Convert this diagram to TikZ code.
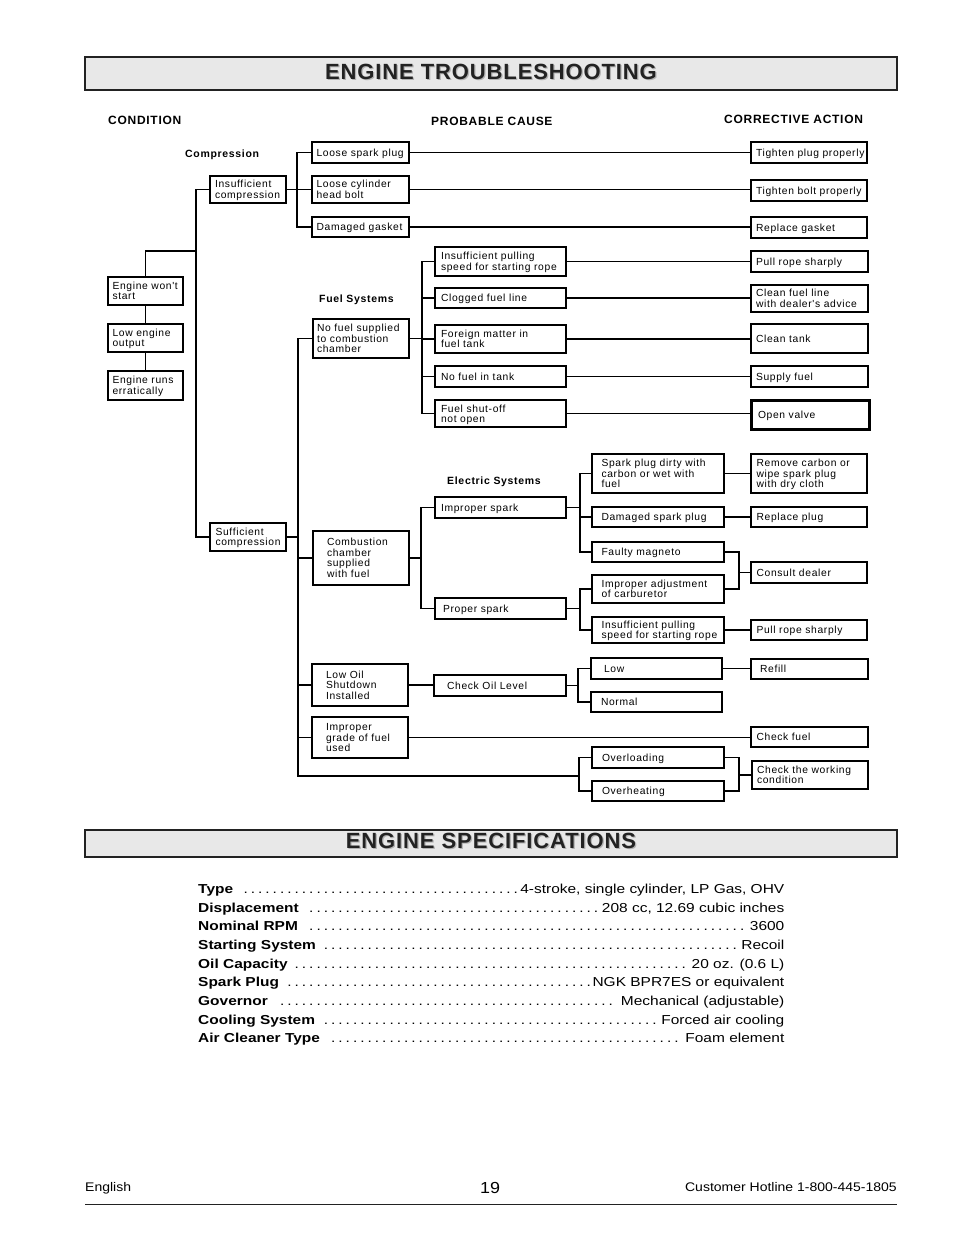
\documentclass[tikz,border=0pt]{standalone}
\usepackage{fontspec}
\setmainfont{Liberation Sans}
\newfontfamily\bxfont[LetterSpace=6.5]{Liberation Sans}
\newfontfamily\hdfont[LetterSpace=6]{Liberation Sans}
\newfontfamily\ttlfont[LetterSpace=4]{Liberation Sans}
\newfontfamily\spfont[FakeStretch=1.19]{Liberation Sans}
\newfontfamily\ftfont[FakeStretch=1.12]{Liberation Sans}
\definecolor{hdrfill}{HTML}{E8E8E8}
\definecolor{ink}{HTML}{222222}
\tikzset{
 cbox/.style={draw=black, line width=1.3pt, inner sep=0pt, font=\bxfont\fontsize{10.3}{10.3}\selectfont},
 conn/.style={line width=1.3pt, line join=miter},
 hdr/.style={anchor=base west, inner sep=0pt, font=\hdfont\bfseries\fontsize{12}{14}\selectfont},
 grp/.style={anchor=base west, inner sep=0pt, font=\bxfont\bfseries\fontsize{10.5}{12}\selectfont},
 banner/.style={draw=ink, line width=1.6pt, fill=hdrfill, minimum width=812pt, inner sep=0pt},
 ttl/.style={font=\ttlfont\bfseries\fontsize{22}{24}\selectfont, inner sep=0pt},
 spec/.style={anchor=base west, inner sep=0pt, font=\spfont\fontsize{13}{15}\selectfont},
 foot/.style={inner sep=0pt, font=\ftfont\fontsize{12.5}{14}\selectfont},
}
\newcommand\TBx[7][5]{%
 \pgfmathsetmacro\TBw{#5-#3}\pgfmathsetmacro\TBh{#6-#4}%
 \pgfmathsetmacro\TBcx{(#3+#5)/2}\pgfmathsetmacro\TBcy{(#4+#6)/2}%
 \node[cbox, minimum width=\TBw pt, minimum height=\TBh pt] (#2) at (\TBcx,\TBcy)
   {\makebox[\TBw pt][l]{\hspace*{#1pt}\raisebox{-4pt}[0pt][0pt]{\begin{tabular}{@{}l@{}}#7\end{tabular}}}};}
\newcommand\SpecLine[4]{\node[spec] (#1) at (198,#2) {\hbox to 586pt{{\bfseries #3}\ \leaders\hbox to 7.3pt{\hss.\hss}\hfill#4}};}
\begin{document}
\begin{tikzpicture}[x=1pt,y=-1pt]
\fill[white] (0,0) rectangle (954,1235);
\useasboundingbox (0,0) rectangle (954,1235);

% ---------- banner 1
\node[banner, minimum height=33pt] (tbar) at (491,73.5) {};
\node[ttl, text=gray!60] (tsh) at (492.2,72.7) {ENGINE TROUBLESHOOTING};
\node[ttl, text=ink] (ttxt) at (491,71.5) {ENGINE TROUBLESHOOTING};

% ---------- column headers
\node[hdr] (hcond) at (108,124.5) {CONDITION};
\node[hdr] (hcause) at (431,125.5) {PROBABLE CAUSE};
\node[hdr] (hact) at (724,123.5) {CORRECTIVE ACTION};
\node[grp] (gcomp) at (185,157) {Compression};
\node[grp] (gfuel) at (319,302) {Fuel Systems};
\node[grp] (gelec) at (447,484) {Electric Systems};

% ---------- boxes: compression
\TBx{ins}{210}{176}{286}{203}{Insufficient\\compression}
\TBx[4.5]{lsp}{312}{142}{409}{163}{Loose spark plug}
\TBx[4.5]{lch}{312}{176}{409}{203}{Loose cylinder\\head bolt}
\TBx[4.5]{dgk}{312}{217}{409}{237}{Damaged gasket}
\TBx{a1}{751}{142}{867}{163}{Tighten plug properly}
\TBx{a2}{751}{180}{867}{201}{Tighten bolt properly}
\TBx{a3}{751}{217}{867}{238}{Replace gasket}

% ---------- conditions
\TBx[4.5]{ews}{108}{277}{183}{305}{Engine won't\\start}
\TBx[4.5]{leo}{108}{324}{183}{352}{Low engine\\output}
\TBx[4.5]{ere}{108}{371}{183}{400}{Engine runs\\erratically}
\TBx[5.5]{suf}{210}{523}{286}{551}{Sufficient\\compression}

% ---------- fuel
\TBx[4]{nfs}{313}{319}{409}{358}{No fuel supplied\\to combustion\\chamber}
\TBx[6]{f1}{435}{247}{566}{276}{Insufficient pulling\\speed for starting rope}
\TBx[6]{f2}{435}{288}{566}{308}{Clogged fuel line}
\TBx[6]{f3}{435}{325}{566}{353}{Foreign matter in\\fuel tank}
\TBx[6]{f4}{435}{366}{566}{387}{No fuel in tank}
\TBx[6]{f5}{435}{400}{566}{427}{Fuel shut-off\\not open}
\TBx{fa1}{751}{251}{868}{272}{Pull rope sharply}
\TBx{fa2}{751}{285}{868}{312}{Clean fuel line\\with dealer's advice}
\TBx{fa3}{751}{324}{868}{353}{Clean tank}
\TBx{fa4}{751}{366}{868}{387}{Supply fuel}
\TBx[6]{fa5}{752}{401}{869}{429}{Open valve}
\draw[line width=1.9pt] (fa5.north west) rectangle (fa5.south east);

% ---------- electric
\TBx[14]{ccf}{313}{531}{409}{585}{Combustion\\chamber\\supplied\\with fuel}
\TBx[6]{isp}{435}{497}{566}{518}{Improper spark}
\TBx[8]{psp}{435}{598}{566}{619}{Proper spark}
\TBx[9.5]{e1}{592}{454}{724}{493}{Spark plug dirty with\\carbon or wet with\\fuel}
\TBx[9.5]{e2}{592}{507}{724}{527}{Damaged spark plug}
\TBx[9.5]{e3}{592}{542}{724}{562}{Faulty magneto}
\TBx[9.5]{e4}{592}{575}{724}{603}{Improper adjustment\\of carburetor}
\TBx[9.5]{e5}{592}{617}{724}{643}{Insufficient pulling\\speed for starting rope}
\TBx[5.5]{ea1}{751}{454}{867}{493}{Remove carbon or\\wipe spark plug\\with dry cloth}
\TBx[5.5]{ea2}{751}{507}{867}{527}{Replace plug}
\TBx[5.5]{ea3}{751}{562}{867}{583}{Consult dealer}
\TBx[5.5]{ea4}{751}{620}{867}{640}{Pull rope sharply}

% ---------- oil / fuel grade / load
\TBx[14]{low}{312}{664}{408}{706}{Low Oil\\Shutdown\\Installed}
\TBx[13]{col}{434}{675}{566}{696}{Check Oil Level}
\TBx[13]{o1}{591}{658}{722}{679}{Low}
\TBx[10]{o2}{591}{692}{722}{712}{Normal}
\TBx[9]{oa1}{751}{659}{868}{679}{Refill}
\TBx[14]{igf}{312}{717}{408}{758}{Improper\\grade of fuel\\used}
\TBx[5.5]{cfu}{751}{727}{868}{747}{Check fuel}
\TBx[10]{ovl}{592}{747}{724}{768}{Overloading}
\TBx[10]{ovh}{592}{781}{724}{801}{Overheating}
\TBx{cwc}{752}{761}{868}{789}{Check the working\\condition}

% ---------- bus coordinates
\coordinate (bl) at (196,0);
\coordinate (bc) at (297,0);
\coordinate (bm) at (298,0);
\coordinate (bf) at (422,0);
\coordinate (be) at (421,0);
\coordinate (bs) at (580,0);
\coordinate (bj) at (739,0);
\coordinate (bo) at (578,0);
\coordinate (bv) at (579,0);
\coordinate (ej) at (145.5,251);
\coordinate (bot) at (298,776);

% ---------- connectors
\draw[conn] (ins.west) -- (ins.west -| bl) -- (suf.west -| bl) -- (suf.west);
\draw[conn] (ews.north) -- (ej) -- (ej -| bl);
\draw[conn] (ews.south) -- (leo.north);
\draw[conn] (leo.south) -- (ere.north);
\draw[conn] (ins.east) -- (ins.east -| lch.west);
\draw[conn] (lsp.west) -- (lsp.west -| bc) -- (dgk.west -| bc) -- (dgk.west);
\draw[conn] (lsp.east) -- (lsp.east -| a1.west);
\draw[conn] (lch.east) -- (lch.east -| a2.west);
\draw[conn] (dgk.east) -- (dgk.east -| a3.west);

\draw[conn] (nfs.west) -- (nfs.west -| bm) -- (bot) -- (bot -| bv);
\draw[conn] (suf.east) -- (suf.east -| bm);
\draw[conn] (ccf.west) -- (ccf.west -| bm);
\draw[conn] (low.west) -- (low.west -| bm);
\draw[conn] (igf.west) -- (igf.west -| bm);

\draw[conn] (nfs.east) -- (nfs.east -| bf);
\draw[conn] (f1.west) -- (f1.west -| bf) -- (f5.west -| bf) -- (f5.west);
\foreach \n in {f2,f3,f4} \draw[conn] (\n.west) -- (\n.west -| bf);
\foreach \a/\b in {f1/fa1,f2/fa2,f3/fa3,f4/fa4,f5/fa5} \draw[conn] (\a.east) -- (\a.east -| \b.west);

\draw[conn] (ccf.east) -- (ccf.east -| be);
\draw[conn] (isp.west) -- (isp.west -| be) -- (psp.west -| be) -- (psp.west);
\draw[conn] (isp.east) -- (isp.east -| bs);
\draw[conn] (e1.west) -- (e1.west -| bs) -- (e3.west -| bs) -- (e3.west);
\draw[conn] (e2.west) -- (e2.west -| bs);
\draw[conn] (psp.east) -- (psp.east -| bs);
\draw[conn] (e4.west) -- (e4.west -| bs) -- (e5.west -| bs) -- (e5.west);
\draw[conn] (e1.east) -- (e1.east -| ea1.west);
\draw[conn] (e2.east) -- (e2.east -| ea2.west);
\draw[conn] (e3.east) -- (e3.east -| bj) -- (e4.east -| bj) -- (e4.east);
\draw[conn] (ea3.west) -- (ea3.west -| bj);
\draw[conn] (e5.east) -- (e5.east -| ea4.west);

\draw[conn] (low.east) -- (low.east -| col.west);
\draw[conn] (col.east) -- (col.east -| bo);
\draw[conn] (o1.west) -- (o1.west -| bo) -- (o2.west -| bo) -- (o2.west);
\draw[conn] (o1.east) -- (o1.east -| oa1.west);
\draw[conn] (igf.east) -- (igf.east -| cfu.west);
\draw[conn] (ovl.west) -- (ovl.west -| bv) -- (ovh.west -| bv) -- (ovh.west);
\draw[conn] (ovl.east) -- (ovl.east -| bj) -- (ovh.east -| bj) -- (ovh.east);
\draw[conn] (cwc.west) -- (cwc.west -| bj);

% ---------- banner 2
\node[banner, minimum height=27pt] (sbar) at (491,843.5) {};
\node[ttl, text=gray!60] (ssh) at (492.2,842.2) {ENGINE SPECIFICATIONS};
\node[ttl, text=ink] (stxt) at (491,841) {ENGINE SPECIFICATIONS};

% ---------- specifications
\SpecLine{s1}{893.5}{Type}{4-stroke, single cylinder, LP Gas, OHV}
\SpecLine{s2}{912}{Displacement}{208 cc, 12.69 cubic inches}
\SpecLine{s3}{930.5}{Nominal RPM}{3600}
\SpecLine{s4}{949.5}{Starting System}{Recoil}
\SpecLine{s5}{968}{Oil Capacity}{ 20 oz. (0.6 L)}
\SpecLine{s6}{986.5}{Spark Plug}{NGK BPR7ES or equivalent}
\SpecLine{s7}{1005}{Governor}{Mechanical (adjustable)}
\SpecLine{s8}{1024}{Cooling System}{Forced air cooling}
\SpecLine{s9}{1042.5}{Air Cleaner Type}{Foam element}

% ---------- footer
\node[foot, anchor=base west] (flang) at (85,1191.5) {English};
\node[inner sep=0pt, anchor=base, font=\ftfont\fontsize{16}{18}\selectfont] (fpage) at (490,1193) {19};
\node[foot, anchor=base east] (fhot) at (897,1191.5) {Customer Hotline 1-800-445-1805};
\coordinate (fl) at (85,1204);
\coordinate (fr) at (897,1204);
\draw[line width=0.9pt, ink] (fl) -- (fr);
\end{tikzpicture}
\end{document}
